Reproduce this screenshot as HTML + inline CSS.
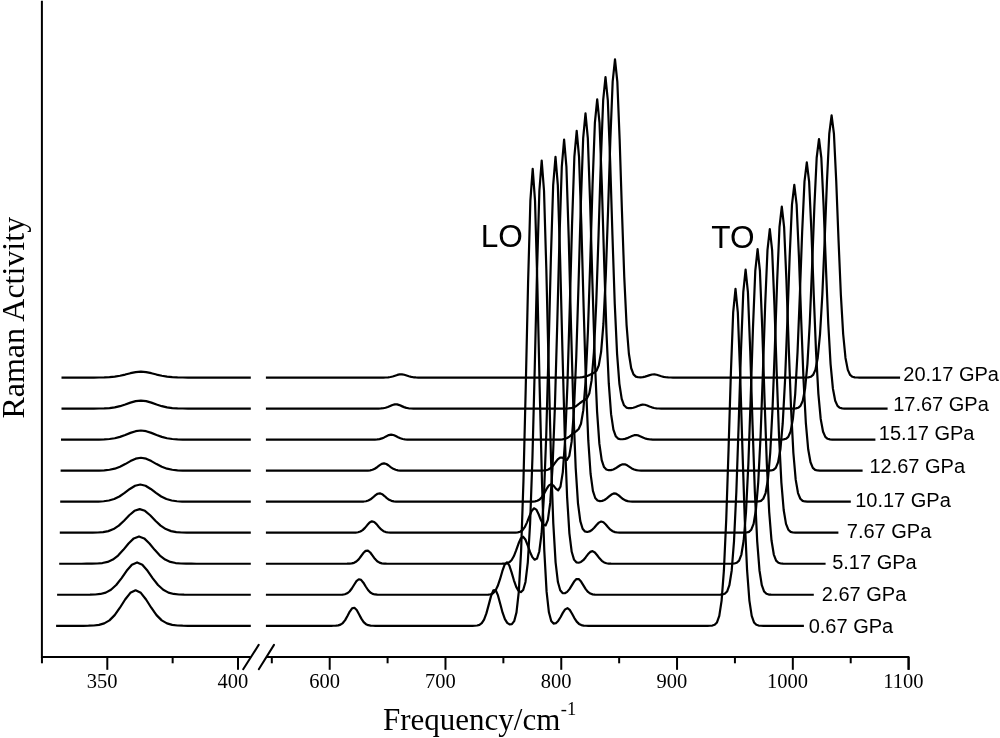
<!DOCTYPE html>
<html><head><meta charset="utf-8"><title>Raman</title>
<style>html,body{margin:0;padding:0;background:#fff;overflow:hidden}svg{display:block;will-change:transform}</style>
</head><body>
<svg width="1000" height="738" viewBox="0 0 1000 738">
<rect width="1000" height="738" fill="#fff"/>
<g fill="none" stroke="#000" stroke-width="2.2" stroke-linejoin="round" stroke-linecap="butt">
<path d="M56.10 625.80 L57.18 625.80 L62.41 625.80 L67.64 625.80 L72.86 625.80 L78.09 625.80 L83.32 625.78 L88.55 625.72 L93.78 625.51 L99.00 624.90 L104.23 623.41 L109.46 620.35 L114.69 615.11 L119.92 607.72 L125.14 599.50 L130.37 592.86 L135.60 590.30 L140.83 592.86 L146.06 599.50 L151.28 607.72 L156.51 615.11 L161.74 620.35 L166.97 623.41 L172.20 624.90 L177.42 625.51 L182.65 625.72 L187.88 625.78 L193.11 625.80 L198.34 625.80 L203.56 625.80 L208.79 625.80 L214.02 625.80 L219.25 625.80 L224.48 625.80 L229.70 625.80 L234.93 625.80 L240.16 625.80 L245.39 625.80 L250.62 625.80 L250.80 625.80"/>
<path d="M265.90 625.80 L266.41 625.80 L268.72 625.80 L271.04 625.80 L273.35 625.80 L275.67 625.80 L277.98 625.80 L280.30 625.80 L282.62 625.80 L284.93 625.80 L287.25 625.80 L289.56 625.80 L291.88 625.80 L294.19 625.80 L296.51 625.80 L298.82 625.80 L301.14 625.80 L303.46 625.80 L305.77 625.80 L308.09 625.80 L310.40 625.80 L312.72 625.80 L315.03 625.80 L317.35 625.80 L319.66 625.80 L321.98 625.80 L324.30 625.80 L326.61 625.80 L328.93 625.80 L331.24 625.79 L333.56 625.77 L335.87 625.69 L338.19 625.41 L340.51 624.67 L342.82 623.04 L345.14 620.15 L347.45 616.03 L349.77 611.58 L352.08 608.34 L354.40 607.74 L356.71 610.05 L359.03 614.23 L361.35 618.63 L363.66 622.06 L365.98 624.15 L368.29 625.19 L370.61 625.61 L372.92 625.75 L375.24 625.79 L377.55 625.80 L379.87 625.80 L382.19 625.80 L384.50 625.80 L386.82 625.80 L389.13 625.80 L391.45 625.80 L393.76 625.80 L396.08 625.80 L398.40 625.80 L400.71 625.80 L403.03 625.80 L405.34 625.80 L407.66 625.80 L409.97 625.80 L412.29 625.80 L414.60 625.80 L416.92 625.80 L419.24 625.80 L421.55 625.80 L423.87 625.80 L426.18 625.80 L428.50 625.80 L430.81 625.80 L433.13 625.80 L435.44 625.80 L437.76 625.80 L440.08 625.80 L442.39 625.80 L444.71 625.80 L447.02 625.80 L449.34 625.80 L451.65 625.80 L453.97 625.80 L456.29 625.80 L458.60 625.80 L460.92 625.80 L463.23 625.80 L465.55 625.80 L467.86 625.80 L470.18 625.80 L472.49 625.78 L474.81 625.73 L477.13 625.52 L479.44 624.87 L481.76 623.18 L484.07 619.58 L486.39 613.38 L488.70 604.89 L491.02 596.13 L493.33 590.32 L495.65 590.03 L497.97 595.42 L500.28 604.04 L502.60 612.67 L504.91 619.11 L507.23 622.86 L509.54 624.43 L511.86 624.15 L514.18 621.18 L516.49 612.40 L518.81 591.65 L521.12 550.37 L523.44 481.53 L525.75 386.91 L528.07 283.30 L530.38 200.66 L532.70 168.90 L535.02 200.66 L537.33 283.30 L539.65 386.91 L541.96 481.53 L544.28 550.37 L546.59 591.63 L548.91 612.33 L551.22 620.96 L553.54 623.57 L555.86 623.20 L558.17 620.93 L560.49 617.21 L562.80 612.87 L565.12 609.37 L567.43 608.22 L569.75 609.93 L572.07 613.73 L574.38 618.06 L576.70 621.62 L579.01 623.90 L581.33 625.07 L583.64 625.56 L585.96 625.74 L588.27 625.79 L590.59 625.80 L592.91 625.80 L595.22 625.80 L597.54 625.80 L599.85 625.80 L602.17 625.80 L604.48 625.80 L606.80 625.80 L609.11 625.80 L611.43 625.80 L613.75 625.80 L616.06 625.80 L618.38 625.80 L620.69 625.80 L623.01 625.80 L625.32 625.80 L627.64 625.80 L629.96 625.80 L632.27 625.80 L635.93 625.80 L638.24 625.80 L640.56 625.80 L642.88 625.80 L645.19 625.80 L647.51 625.80 L649.82 625.80 L652.14 625.80 L654.45 625.80 L656.77 625.80 L659.09 625.80 L661.40 625.80 L663.72 625.80 L666.03 625.80 L668.35 625.80 L670.66 625.80 L672.98 625.80 L675.29 625.80 L677.61 625.80 L679.93 625.80 L682.24 625.80 L684.56 625.80 L686.87 625.80 L689.19 625.80 L691.50 625.80 L693.82 625.80 L696.13 625.80 L698.45 625.80 L700.77 625.80 L703.08 625.80 L705.40 625.80 L707.71 625.79 L710.03 625.74 L712.34 625.55 L714.66 624.82 L716.98 622.45 L719.29 615.93 L721.61 600.62 L723.92 570.18 L726.24 519.42 L728.55 449.65 L730.87 373.26 L733.18 312.32 L735.50 288.90 L737.82 312.32 L740.13 373.26 L742.45 449.65 L744.76 519.42 L747.08 570.18 L749.39 600.62 L751.71 615.93 L754.02 622.45 L756.34 624.82 L758.66 625.55 L760.97 625.74 L763.29 625.79 L765.60 625.80 L767.92 625.80 L770.23 625.80 L772.55 625.80 L774.87 625.80 L777.18 625.80 L779.50 625.80 L781.81 625.80 L784.13 625.80 L786.44 625.80 L788.76 625.80 L791.07 625.80 L793.39 625.80 L795.71 625.80 L798.02 625.80 L800.34 625.80 L802.65 625.80 L803.90 625.80"/>
<path d="M57.10 594.77 L58.68 594.77 L63.91 594.77 L69.14 594.77 L74.36 594.77 L79.59 594.77 L84.82 594.75 L90.05 594.70 L95.28 594.50 L100.50 593.95 L105.73 592.60 L110.96 589.81 L116.19 585.04 L121.42 578.32 L126.64 570.84 L131.87 564.80 L137.10 562.47 L142.33 564.80 L147.56 570.84 L152.78 578.32 L158.01 585.04 L163.24 589.81 L168.47 592.60 L173.70 593.95 L178.92 594.50 L184.15 594.70 L189.38 594.75 L194.61 594.77 L199.84 594.77 L205.06 594.77 L210.29 594.77 L215.52 594.77 L220.75 594.77 L225.98 594.77 L231.20 594.77 L236.43 594.77 L241.66 594.77 L246.89 594.77 L250.80 594.77"/>
<path d="M265.90 594.77 L266.14 594.77 L268.46 594.77 L270.77 594.77 L273.09 594.77 L275.41 594.77 L277.72 594.77 L280.04 594.77 L282.35 594.77 L284.67 594.77 L286.98 594.77 L289.30 594.77 L291.62 594.77 L293.93 594.77 L296.25 594.77 L298.56 594.77 L300.88 594.77 L303.19 594.77 L305.51 594.77 L307.82 594.77 L310.14 594.77 L312.46 594.77 L314.77 594.77 L317.09 594.77 L319.40 594.77 L321.72 594.77 L324.03 594.77 L326.35 594.77 L328.66 594.77 L330.98 594.77 L333.30 594.77 L335.61 594.77 L337.93 594.76 L340.24 594.73 L342.56 594.60 L344.87 594.23 L347.19 593.32 L349.51 591.50 L351.82 588.53 L354.14 584.74 L356.45 581.19 L358.77 579.27 L361.08 579.86 L363.40 582.68 L365.71 586.51 L368.03 590.01 L370.35 592.46 L372.66 593.83 L374.98 594.44 L377.29 594.68 L379.61 594.75 L381.92 594.77 L384.24 594.77 L386.55 594.77 L388.87 594.77 L391.19 594.77 L393.50 594.77 L395.82 594.77 L398.13 594.77 L400.45 594.77 L402.76 594.77 L405.08 594.77 L407.40 594.77 L409.71 594.77 L412.03 594.77 L414.34 594.77 L416.66 594.77 L418.97 594.77 L421.29 594.77 L423.60 594.77 L425.92 594.77 L428.24 594.77 L430.55 594.77 L432.87 594.77 L435.18 594.77 L437.50 594.77 L439.81 594.77 L442.13 594.77 L444.44 594.77 L446.76 594.77 L449.08 594.77 L451.39 594.77 L453.71 594.77 L456.02 594.77 L458.34 594.77 L460.65 594.77 L462.97 594.77 L465.29 594.77 L467.60 594.77 L469.92 594.77 L472.23 594.77 L474.55 594.77 L476.86 594.77 L479.18 594.77 L481.49 594.77 L483.81 594.76 L486.13 594.73 L488.44 594.62 L490.76 594.24 L493.07 593.16 L495.39 590.71 L497.70 586.11 L500.02 579.20 L502.33 571.19 L504.65 564.67 L506.97 562.38 L509.28 565.40 L511.60 572.32 L513.91 580.29 L516.23 586.85 L518.54 590.85 L520.86 592.12 L523.18 590.00 L525.49 581.93 L527.81 562.29 L530.12 523.09 L532.44 457.68 L534.75 367.76 L537.07 269.31 L539.38 190.78 L541.70 160.60 L544.02 190.78 L546.33 269.31 L548.65 367.76 L550.96 457.68 L553.28 523.09 L555.59 562.32 L557.91 582.02 L560.22 590.32 L562.54 593.07 L564.86 593.25 L567.17 591.87 L569.49 589.15 L571.80 585.40 L574.12 581.58 L576.43 579.11 L578.75 579.10 L581.07 581.56 L583.38 585.38 L585.70 589.14 L588.01 591.93 L590.33 593.56 L592.64 594.34 L594.96 594.64 L597.27 594.74 L599.59 594.76 L601.91 594.77 L604.22 594.77 L606.54 594.77 L608.85 594.77 L611.17 594.77 L613.48 594.77 L615.80 594.77 L618.11 594.77 L620.43 594.77 L622.75 594.77 L625.06 594.77 L627.38 594.77 L629.69 594.77 L632.01 594.77 L634.32 594.77 L636.64 594.77 L638.96 594.77 L641.27 594.77 L643.59 594.77 L643.71 594.77 L646.03 594.77 L648.34 594.77 L650.66 594.77 L652.98 594.77 L655.29 594.77 L657.61 594.77 L659.92 594.77 L662.24 594.77 L664.55 594.77 L666.87 594.77 L669.19 594.77 L671.50 594.77 L673.82 594.77 L676.13 594.77 L678.45 594.77 L680.76 594.77 L683.08 594.77 L685.39 594.77 L687.71 594.77 L690.03 594.77 L692.34 594.77 L694.66 594.77 L696.97 594.77 L699.29 594.77 L701.60 594.77 L703.92 594.77 L706.23 594.77 L708.55 594.77 L710.87 594.77 L713.18 594.77 L715.50 594.77 L717.81 594.76 L720.13 594.72 L722.44 594.53 L724.76 593.82 L727.08 591.54 L729.39 585.24 L731.71 570.46 L734.02 541.07 L736.34 492.07 L738.65 424.70 L740.97 350.94 L743.28 292.11 L745.60 269.50 L747.92 292.11 L750.23 350.94 L752.55 424.70 L754.86 492.07 L757.18 541.07 L759.49 570.46 L761.81 585.24 L764.12 591.54 L766.44 593.82 L768.76 594.53 L771.07 594.72 L773.39 594.76 L775.70 594.77 L778.02 594.77 L780.33 594.77 L782.65 594.77 L784.97 594.77 L787.28 594.77 L789.60 594.77 L791.91 594.77 L794.23 594.77 L796.54 594.77 L798.86 594.77 L801.17 594.77 L803.49 594.77 L805.81 594.77 L808.12 594.77 L810.44 594.77 L812.75 594.77 L813.80 594.77"/>
<path d="M59.20 563.74 L60.58 563.74 L65.81 563.74 L71.04 563.74 L76.26 563.74 L81.49 563.74 L86.72 563.72 L91.95 563.68 L97.18 563.52 L102.40 563.05 L107.63 561.90 L112.86 559.55 L118.09 555.52 L123.32 549.84 L128.54 543.51 L133.77 538.41 L139.00 536.44 L144.23 538.41 L149.46 543.51 L154.68 549.84 L159.91 555.52 L165.14 559.55 L170.37 561.90 L175.60 563.05 L180.82 563.52 L186.05 563.68 L191.28 563.72 L196.51 563.74 L201.74 563.74 L206.96 563.74 L212.19 563.74 L217.42 563.74 L222.65 563.74 L227.88 563.74 L233.10 563.74 L238.33 563.74 L243.56 563.74 L248.79 563.74 L250.80 563.74"/>
<path d="M265.90 563.74 L266.05 563.74 L268.37 563.74 L270.68 563.74 L273.00 563.74 L275.31 563.74 L277.63 563.74 L279.94 563.74 L282.26 563.74 L284.57 563.74 L286.89 563.74 L289.21 563.74 L291.52 563.74 L293.84 563.74 L296.15 563.74 L298.47 563.74 L300.78 563.74 L303.10 563.74 L305.42 563.74 L307.73 563.74 L310.05 563.74 L312.36 563.74 L314.68 563.74 L316.99 563.74 L319.31 563.74 L321.62 563.74 L323.94 563.74 L326.26 563.74 L328.57 563.74 L330.89 563.74 L333.20 563.74 L335.52 563.74 L337.83 563.74 L340.15 563.74 L342.46 563.74 L344.78 563.73 L347.10 563.72 L349.41 563.64 L351.73 563.42 L354.04 562.83 L356.36 561.55 L358.67 559.34 L360.99 556.26 L363.31 553.04 L365.62 550.84 L367.94 550.62 L370.25 552.50 L372.57 555.63 L374.88 558.80 L377.20 561.21 L379.51 562.64 L381.83 563.34 L384.15 563.62 L386.46 563.71 L388.78 563.73 L391.09 563.74 L393.41 563.74 L395.72 563.74 L398.04 563.74 L400.35 563.74 L402.67 563.74 L404.99 563.74 L407.30 563.74 L409.62 563.74 L411.93 563.74 L414.25 563.74 L416.56 563.74 L418.88 563.74 L421.20 563.74 L423.51 563.74 L425.83 563.74 L428.14 563.74 L430.46 563.74 L432.77 563.74 L435.09 563.74 L437.40 563.74 L439.72 563.74 L442.04 563.74 L444.35 563.74 L446.67 563.74 L448.98 563.74 L451.30 563.74 L453.61 563.74 L455.93 563.74 L458.24 563.74 L460.56 563.74 L462.88 563.74 L465.19 563.74 L467.51 563.74 L469.82 563.74 L472.14 563.74 L474.45 563.74 L476.77 563.74 L479.09 563.74 L481.40 563.74 L483.72 563.74 L486.03 563.74 L488.35 563.74 L490.66 563.74 L492.98 563.74 L495.29 563.74 L497.61 563.74 L499.93 563.73 L502.24 563.71 L504.56 563.61 L506.87 563.27 L509.19 562.33 L511.50 560.21 L513.82 556.28 L516.13 550.44 L518.45 543.77 L520.77 538.46 L523.08 536.77 L525.40 539.49 L527.71 545.35 L530.03 551.94 L532.34 557.12 L534.66 559.68 L536.98 558.60 L539.29 551.47 L541.61 533.23 L543.92 496.54 L546.24 435.25 L548.55 350.97 L550.87 258.69 L553.18 185.09 L555.50 156.80 L557.82 185.09 L560.13 258.69 L562.45 350.97 L564.76 435.25 L567.08 496.56 L569.39 533.32 L571.71 551.80 L574.02 559.63 L576.34 562.32 L578.66 562.76 L580.97 561.99 L583.29 560.18 L585.60 557.44 L587.92 554.33 L590.23 551.89 L592.55 551.16 L594.87 552.49 L597.18 555.26 L599.50 558.35 L601.81 560.85 L604.13 562.44 L606.44 563.24 L608.76 563.58 L611.07 563.70 L613.39 563.73 L615.71 563.74 L618.02 563.74 L620.34 563.74 L622.65 563.74 L624.97 563.74 L627.28 563.74 L629.60 563.74 L631.91 563.74 L634.23 563.74 L636.55 563.74 L638.86 563.74 L641.18 563.74 L643.49 563.74 L645.81 563.74 L648.12 563.74 L650.44 563.74 L652.76 563.74 L655.07 563.74 L658.03 563.74 L660.34 563.74 L662.66 563.74 L664.98 563.74 L667.29 563.74 L669.61 563.74 L671.92 563.74 L674.24 563.74 L676.55 563.74 L678.87 563.74 L681.19 563.74 L683.50 563.74 L685.82 563.74 L688.13 563.74 L690.45 563.74 L692.76 563.74 L695.08 563.74 L697.39 563.74 L699.71 563.74 L702.03 563.74 L704.34 563.74 L706.66 563.74 L708.97 563.74 L711.29 563.74 L713.60 563.74 L715.92 563.74 L718.23 563.74 L720.55 563.74 L722.87 563.74 L725.18 563.74 L727.50 563.74 L729.81 563.73 L732.13 563.69 L734.44 563.51 L736.76 562.82 L739.08 560.61 L741.39 554.52 L743.71 540.23 L746.02 511.80 L748.34 464.39 L750.65 399.23 L752.97 327.88 L755.28 270.97 L757.60 249.10 L759.92 270.97 L762.23 327.88 L764.55 399.23 L766.86 464.39 L769.18 511.80 L771.49 540.23 L773.81 554.52 L776.12 560.61 L778.44 562.82 L780.76 563.51 L783.07 563.69 L785.39 563.73 L787.70 563.74 L790.02 563.74 L792.33 563.74 L794.65 563.74 L796.97 563.74 L799.28 563.74 L801.60 563.74 L803.91 563.74 L806.23 563.74 L808.54 563.74 L810.86 563.74 L813.17 563.74 L815.49 563.74 L817.81 563.74 L820.12 563.74 L822.44 563.74 L824.75 563.74 L825.60 563.74"/>
<path d="M59.80 532.71 L61.28 532.71 L66.51 532.71 L71.74 532.71 L76.96 532.71 L82.19 532.71 L87.42 532.70 L92.65 532.66 L97.88 532.52 L103.10 532.11 L108.33 531.12 L113.56 529.09 L118.79 525.60 L124.02 520.69 L129.24 515.23 L134.47 510.81 L139.70 509.11 L144.93 510.81 L150.16 515.23 L155.38 520.69 L160.61 525.60 L165.84 529.09 L171.07 531.12 L176.30 532.11 L181.52 532.52 L186.75 532.66 L191.98 532.70 L197.21 532.71 L202.44 532.71 L207.66 532.71 L212.89 532.71 L218.12 532.71 L223.35 532.71 L228.58 532.71 L233.80 532.71 L239.03 532.71 L244.26 532.71 L249.49 532.71 L250.80 532.71"/>
<path d="M265.90 532.71 L267.70 532.71 L270.02 532.71 L272.33 532.71 L274.65 532.71 L276.97 532.71 L279.28 532.71 L281.60 532.71 L283.91 532.71 L286.23 532.71 L288.54 532.71 L290.86 532.71 L293.17 532.71 L295.49 532.71 L297.81 532.71 L300.12 532.71 L302.44 532.71 L304.75 532.71 L307.07 532.71 L309.38 532.71 L311.70 532.71 L314.02 532.71 L316.33 532.71 L318.65 532.71 L320.96 532.71 L323.28 532.71 L325.59 532.71 L327.91 532.71 L330.22 532.71 L332.54 532.71 L334.86 532.71 L337.17 532.71 L339.49 532.71 L341.80 532.71 L344.12 532.71 L346.43 532.71 L348.75 532.71 L351.06 532.70 L353.38 532.67 L355.70 532.57 L358.01 532.27 L360.33 531.55 L362.64 530.13 L364.96 527.88 L367.27 525.09 L369.59 522.57 L371.91 521.34 L374.22 521.96 L376.54 524.15 L378.85 526.96 L381.17 529.46 L383.48 531.16 L385.80 532.09 L388.11 532.50 L390.43 532.65 L392.75 532.70 L395.06 532.71 L397.38 532.71 L399.69 532.71 L402.01 532.71 L404.32 532.71 L406.64 532.71 L408.95 532.71 L411.27 532.71 L413.59 532.71 L415.90 532.71 L418.22 532.71 L420.53 532.71 L422.85 532.71 L425.16 532.71 L427.48 532.71 L429.80 532.71 L432.11 532.71 L434.43 532.71 L436.74 532.71 L439.06 532.71 L441.37 532.71 L443.69 532.71 L446.00 532.71 L448.32 532.71 L450.64 532.71 L452.95 532.71 L455.27 532.71 L457.58 532.71 L459.90 532.71 L462.21 532.71 L464.53 532.71 L466.84 532.71 L469.16 532.71 L471.48 532.71 L473.79 532.71 L476.11 532.71 L478.42 532.71 L480.74 532.71 L483.05 532.71 L485.37 532.71 L487.69 532.71 L490.00 532.71 L492.32 532.71 L494.63 532.71 L496.95 532.71 L499.26 532.71 L501.58 532.71 L503.89 532.71 L506.21 532.71 L508.53 532.71 L510.84 532.71 L513.16 532.69 L515.47 532.63 L517.79 532.41 L520.10 531.77 L522.42 530.23 L524.73 527.19 L527.05 522.36 L529.37 516.36 L531.68 510.94 L534.00 508.27 L536.31 509.59 L538.63 514.22 L540.94 520.04 L543.26 524.55 L545.58 525.46 L547.89 519.85 L550.21 502.88 L552.52 467.68 L554.84 408.55 L557.15 327.16 L559.47 238.03 L561.78 166.93 L564.10 139.60 L566.42 166.93 L568.73 238.03 L571.05 327.17 L573.36 408.59 L575.68 467.81 L577.99 503.33 L580.31 521.19 L582.62 528.76 L584.94 531.41 L587.26 531.96 L589.57 531.44 L591.89 530.05 L594.20 527.80 L596.52 525.05 L598.83 522.63 L601.15 521.52 L603.47 522.25 L605.78 524.46 L608.10 527.23 L610.41 529.64 L612.73 531.26 L615.04 532.13 L617.36 532.52 L619.67 532.66 L621.99 532.70 L624.31 532.71 L626.62 532.71 L628.94 532.71 L631.25 532.71 L633.57 532.71 L635.88 532.71 L638.20 532.71 L640.51 532.71 L642.83 532.71 L645.15 532.71 L647.46 532.71 L649.78 532.71 L652.09 532.71 L654.41 532.71 L656.72 532.71 L659.04 532.71 L661.36 532.71 L663.67 532.71 L665.99 532.71 L667.91 532.71 L670.23 532.71 L672.54 532.71 L674.86 532.71 L677.18 532.71 L679.49 532.71 L681.81 532.71 L684.12 532.71 L686.44 532.71 L688.75 532.71 L691.07 532.71 L693.39 532.71 L695.70 532.71 L698.02 532.71 L700.33 532.71 L702.65 532.71 L704.96 532.71 L707.28 532.71 L709.59 532.71 L711.91 532.71 L714.23 532.71 L716.54 532.71 L718.86 532.71 L721.17 532.71 L723.49 532.71 L725.80 532.71 L728.12 532.71 L730.43 532.71 L732.75 532.71 L735.07 532.71 L737.38 532.71 L739.70 532.71 L742.01 532.70 L744.33 532.66 L746.64 532.48 L748.96 531.82 L751.28 529.69 L753.59 523.81 L755.91 510.01 L758.22 482.57 L760.54 436.81 L762.85 373.91 L765.17 305.05 L767.48 250.11 L769.80 229.00 L772.12 250.11 L774.43 305.05 L776.75 373.91 L779.06 436.81 L781.38 482.57 L783.69 510.01 L786.01 523.81 L788.32 529.69 L790.64 531.82 L792.96 532.48 L795.27 532.66 L797.59 532.70 L799.90 532.71 L802.22 532.71 L804.53 532.71 L806.85 532.71 L809.17 532.71 L811.48 532.71 L813.80 532.71 L816.11 532.71 L818.43 532.71 L820.74 532.71 L823.06 532.71 L825.37 532.71 L827.69 532.71 L830.01 532.71 L832.32 532.71 L834.64 532.71 L836.95 532.71 L838.40 532.71"/>
<path d="M60.20 501.68 L61.88 501.68 L67.11 501.68 L72.34 501.68 L77.56 501.68 L82.79 501.68 L88.02 501.67 L93.25 501.64 L98.48 501.54 L103.70 501.24 L108.93 500.52 L114.16 499.04 L119.39 496.50 L124.62 492.92 L129.84 488.94 L135.07 485.72 L140.30 484.48 L145.53 485.72 L150.76 488.94 L155.98 492.92 L161.21 496.50 L166.44 499.04 L171.67 500.52 L176.90 501.24 L182.12 501.54 L187.35 501.64 L192.58 501.67 L197.81 501.68 L203.04 501.68 L208.26 501.68 L213.49 501.68 L218.72 501.68 L223.95 501.68 L229.18 501.68 L234.40 501.68 L239.63 501.68 L244.86 501.68 L250.09 501.68 L250.80 501.68"/>
<path d="M265.90 501.68 L266.41 501.68 L268.73 501.68 L271.04 501.68 L273.36 501.68 L275.67 501.68 L277.99 501.68 L280.30 501.68 L282.62 501.68 L284.93 501.68 L287.25 501.68 L289.57 501.68 L291.88 501.68 L294.20 501.68 L296.51 501.68 L298.83 501.68 L301.14 501.68 L303.46 501.68 L305.77 501.68 L308.09 501.68 L310.41 501.68 L312.72 501.68 L315.04 501.68 L317.35 501.68 L319.67 501.68 L321.98 501.68 L324.30 501.68 L326.62 501.68 L328.93 501.68 L331.25 501.68 L333.56 501.68 L335.88 501.68 L338.19 501.68 L340.51 501.68 L342.82 501.68 L345.14 501.68 L347.46 501.68 L349.77 501.68 L352.09 501.68 L354.40 501.68 L356.72 501.68 L359.03 501.67 L361.35 501.64 L363.66 501.53 L365.98 501.22 L368.30 500.54 L370.61 499.30 L372.93 497.46 L375.24 495.39 L377.56 493.77 L379.87 493.30 L382.19 494.20 L384.51 496.05 L386.82 498.11 L389.14 499.77 L391.45 500.82 L393.77 501.35 L396.08 501.58 L398.40 501.65 L400.71 501.67 L403.03 501.68 L405.35 501.68 L407.66 501.68 L409.98 501.68 L412.29 501.68 L414.61 501.68 L416.92 501.68 L419.24 501.68 L421.55 501.68 L423.87 501.68 L426.19 501.68 L428.50 501.68 L430.82 501.68 L433.13 501.68 L435.45 501.68 L437.76 501.68 L440.08 501.68 L442.40 501.68 L444.71 501.68 L447.03 501.68 L449.34 501.68 L451.66 501.68 L453.97 501.68 L456.29 501.68 L458.60 501.68 L460.92 501.68 L463.24 501.68 L465.55 501.68 L467.87 501.68 L470.18 501.68 L472.50 501.68 L474.81 501.68 L477.13 501.68 L479.44 501.68 L481.76 501.68 L484.08 501.68 L486.39 501.68 L488.71 501.68 L491.02 501.68 L493.34 501.68 L495.65 501.68 L497.97 501.68 L500.29 501.68 L502.60 501.68 L504.92 501.68 L507.23 501.68 L509.55 501.68 L511.86 501.68 L514.18 501.68 L516.49 501.68 L518.81 501.68 L521.13 501.68 L523.44 501.68 L525.76 501.68 L528.07 501.68 L530.39 501.66 L532.70 501.60 L535.02 501.38 L537.33 500.79 L539.65 499.44 L541.97 496.93 L544.28 493.18 L546.60 488.87 L548.91 485.39 L551.23 484.19 L553.54 485.67 L555.86 488.62 L558.18 490.32 L560.49 486.67 L562.81 472.07 L565.12 439.73 L567.44 384.34 L569.75 307.70 L572.07 223.65 L574.38 156.58 L576.70 130.80 L579.02 156.58 L581.33 223.67 L583.65 307.76 L585.96 384.58 L588.28 440.45 L590.59 473.96 L592.91 490.81 L595.22 497.97 L597.54 500.51 L599.86 501.13 L602.17 500.88 L604.49 499.99 L606.80 498.45 L609.12 496.45 L611.43 494.54 L613.75 493.45 L616.07 493.70 L618.38 495.15 L620.70 497.18 L623.01 499.07 L625.33 500.40 L627.64 501.15 L629.96 501.50 L632.27 501.63 L634.59 501.67 L636.91 501.68 L639.22 501.68 L641.54 501.68 L643.85 501.68 L646.17 501.68 L648.48 501.68 L650.80 501.68 L653.11 501.68 L655.43 501.68 L657.75 501.68 L660.06 501.68 L662.38 501.68 L664.69 501.68 L667.01 501.68 L669.32 501.68 L671.64 501.68 L673.96 501.68 L676.27 501.68 L678.59 501.68 L679.91 501.68 L682.23 501.68 L684.54 501.68 L686.86 501.68 L689.18 501.68 L691.49 501.68 L693.81 501.68 L696.12 501.68 L698.44 501.68 L700.75 501.68 L703.07 501.68 L705.39 501.68 L707.70 501.68 L710.02 501.68 L712.33 501.68 L714.65 501.68 L716.96 501.68 L719.28 501.68 L721.59 501.68 L723.91 501.68 L726.23 501.68 L728.54 501.68 L730.86 501.68 L733.17 501.68 L735.49 501.68 L737.80 501.68 L740.12 501.68 L742.43 501.68 L744.75 501.68 L747.07 501.68 L749.38 501.68 L751.70 501.68 L754.01 501.67 L756.33 501.63 L758.64 501.46 L760.96 500.82 L763.28 498.75 L765.59 493.04 L767.91 479.63 L770.22 452.98 L772.54 408.54 L774.85 347.45 L777.17 280.56 L779.48 227.21 L781.80 206.70 L784.12 227.21 L786.43 280.56 L788.75 347.45 L791.06 408.54 L793.38 452.98 L795.69 479.63 L798.01 493.04 L800.32 498.75 L802.64 500.82 L804.96 501.46 L807.27 501.63 L809.59 501.67 L811.90 501.68 L814.22 501.68 L816.53 501.68 L818.85 501.68 L821.17 501.68 L823.48 501.68 L825.80 501.68 L828.11 501.68 L830.43 501.68 L832.74 501.68 L835.06 501.68 L837.37 501.68 L839.69 501.68 L842.01 501.68 L844.32 501.68 L846.64 501.68 L848.95 501.68 L850.80 501.68"/>
<path d="M60.60 470.65 L62.48 470.65 L67.71 470.65 L72.94 470.65 L78.16 470.65 L83.39 470.65 L88.62 470.64 L93.85 470.62 L99.08 470.54 L104.30 470.32 L109.53 469.78 L114.76 468.67 L119.99 466.76 L125.22 464.08 L130.44 461.09 L135.67 458.68 L140.90 457.75 L146.13 458.68 L151.36 461.09 L156.58 464.08 L161.81 466.76 L167.04 468.67 L172.27 469.78 L177.50 470.32 L182.72 470.54 L187.95 470.62 L193.18 470.64 L198.41 470.65 L203.64 470.65 L208.86 470.65 L214.09 470.65 L219.32 470.65 L224.55 470.65 L229.78 470.65 L235.00 470.65 L240.23 470.65 L245.46 470.65 L250.69 470.65 L250.80 470.65"/>
<path d="M265.90 470.65 L265.95 470.65 L268.26 470.65 L270.58 470.65 L272.89 470.65 L275.21 470.65 L277.53 470.65 L279.84 470.65 L282.16 470.65 L284.47 470.65 L286.79 470.65 L289.10 470.65 L291.42 470.65 L293.73 470.65 L296.05 470.65 L298.37 470.65 L300.68 470.65 L303.00 470.65 L305.31 470.65 L307.63 470.65 L309.94 470.65 L312.26 470.65 L314.57 470.65 L316.89 470.65 L319.21 470.65 L321.52 470.65 L323.84 470.65 L326.15 470.65 L328.47 470.65 L330.78 470.65 L333.10 470.65 L335.42 470.65 L337.73 470.65 L340.05 470.65 L342.36 470.65 L344.68 470.65 L346.99 470.65 L349.31 470.65 L351.62 470.65 L353.94 470.65 L356.26 470.65 L358.57 470.65 L360.89 470.65 L363.20 470.64 L365.52 470.62 L367.83 470.54 L370.15 470.31 L372.46 469.78 L374.78 468.77 L377.10 467.24 L379.41 465.43 L381.73 463.93 L384.04 463.35 L386.36 463.97 L388.67 465.50 L390.99 467.30 L393.31 468.81 L395.62 469.80 L397.94 470.32 L400.25 470.54 L402.57 470.62 L404.88 470.64 L407.20 470.65 L409.51 470.65 L411.83 470.65 L414.15 470.65 L416.46 470.65 L418.78 470.65 L421.09 470.65 L423.41 470.65 L425.72 470.65 L428.04 470.65 L430.35 470.65 L432.67 470.65 L434.99 470.65 L437.30 470.65 L439.62 470.65 L441.93 470.65 L444.25 470.65 L446.56 470.65 L448.88 470.65 L451.20 470.65 L453.51 470.65 L455.83 470.65 L458.14 470.65 L460.46 470.65 L462.77 470.65 L465.09 470.65 L467.40 470.65 L469.72 470.65 L472.04 470.65 L474.35 470.65 L476.67 470.65 L478.98 470.65 L481.30 470.65 L483.61 470.65 L485.93 470.65 L488.24 470.65 L490.56 470.65 L492.88 470.65 L495.19 470.65 L497.51 470.65 L499.82 470.65 L502.14 470.65 L504.45 470.65 L506.77 470.65 L509.09 470.65 L511.40 470.65 L513.72 470.65 L516.03 470.65 L518.35 470.65 L520.66 470.65 L522.98 470.65 L525.29 470.65 L527.61 470.65 L529.93 470.65 L532.24 470.65 L534.56 470.65 L536.87 470.65 L539.19 470.64 L541.50 470.62 L543.82 470.52 L546.13 470.22 L548.45 469.49 L550.77 468.00 L553.08 465.54 L555.40 462.36 L557.71 459.30 L560.03 457.51 L562.34 457.68 L564.66 459.20 L566.98 459.91 L569.29 456.00 L571.61 441.89 L573.92 410.81 L576.24 357.52 L578.55 283.72 L580.87 202.76 L583.18 138.14 L585.50 113.30 L587.82 138.14 L590.13 202.78 L592.45 283.81 L594.76 357.82 L597.08 411.66 L599.39 443.94 L601.71 460.18 L604.02 467.08 L606.34 469.55 L608.66 470.20 L610.97 470.08 L613.29 469.45 L615.60 468.30 L617.92 466.76 L620.23 465.22 L622.55 464.26 L624.87 464.31 L627.18 465.35 L629.50 466.92 L631.81 468.43 L634.13 469.54 L636.44 470.18 L638.76 470.48 L641.07 470.60 L643.39 470.64 L645.71 470.65 L648.02 470.65 L650.34 470.65 L652.65 470.65 L654.97 470.65 L657.28 470.65 L659.60 470.65 L661.91 470.65 L664.23 470.65 L666.55 470.65 L668.86 470.65 L671.18 470.65 L673.49 470.65 L675.81 470.65 L678.12 470.65 L680.44 470.65 L682.76 470.65 L685.07 470.65 L687.39 470.65 L689.70 470.65 L690.10 470.65 L692.41 470.65 L694.73 470.65 L697.04 470.65 L699.36 470.65 L701.68 470.65 L703.99 470.65 L706.31 470.65 L708.62 470.65 L710.94 470.65 L713.25 470.65 L715.57 470.65 L717.89 470.65 L720.20 470.65 L722.52 470.65 L724.83 470.65 L727.15 470.65 L729.46 470.65 L731.78 470.65 L734.09 470.65 L736.41 470.65 L738.73 470.65 L741.04 470.65 L743.36 470.65 L745.67 470.65 L747.99 470.65 L750.30 470.65 L752.62 470.65 L754.93 470.65 L757.25 470.65 L759.57 470.65 L761.88 470.65 L764.20 470.65 L766.51 470.64 L768.83 470.60 L771.14 470.44 L773.46 469.82 L775.78 467.81 L778.09 462.28 L780.41 449.29 L782.72 423.46 L785.04 380.39 L787.35 321.19 L789.67 256.37 L791.98 204.67 L794.30 184.80 L796.62 204.67 L798.93 256.37 L801.25 321.19 L803.56 380.39 L805.88 423.46 L808.19 449.29 L810.51 462.28 L812.82 467.81 L815.14 469.82 L817.46 470.44 L819.77 470.60 L822.09 470.64 L824.40 470.65 L826.72 470.65 L829.03 470.65 L831.35 470.65 L833.67 470.65 L835.98 470.65 L838.30 470.65 L840.61 470.65 L842.93 470.65 L845.24 470.65 L847.56 470.65 L849.87 470.65 L852.19 470.65 L854.51 470.65 L856.82 470.65 L859.14 470.65 L861.45 470.65 L862.60 470.65"/>
<path d="M61.00 439.62 L62.48 439.62 L67.71 439.62 L72.94 439.62 L78.16 439.62 L83.39 439.62 L88.62 439.61 L93.85 439.60 L99.08 439.55 L104.30 439.39 L109.53 439.01 L114.76 438.22 L119.99 436.88 L125.22 434.99 L130.44 432.88 L135.67 431.18 L140.90 430.52 L146.13 431.18 L151.36 432.88 L156.58 434.99 L161.81 436.88 L167.04 438.22 L172.27 439.01 L177.50 439.39 L182.72 439.55 L187.95 439.60 L193.18 439.61 L198.41 439.62 L203.64 439.62 L208.86 439.62 L214.09 439.62 L219.32 439.62 L224.55 439.62 L229.78 439.62 L235.00 439.62 L240.23 439.62 L245.46 439.62 L250.69 439.62 L250.80 439.62"/>
<path d="M265.90 439.62 L266.07 439.62 L268.38 439.62 L270.70 439.62 L273.02 439.62 L275.33 439.62 L277.65 439.62 L279.96 439.62 L282.28 439.62 L284.59 439.62 L286.91 439.62 L289.23 439.62 L291.54 439.62 L293.86 439.62 L296.17 439.62 L298.49 439.62 L300.80 439.62 L303.12 439.62 L305.43 439.62 L307.75 439.62 L310.07 439.62 L312.38 439.62 L314.70 439.62 L317.01 439.62 L319.33 439.62 L321.64 439.62 L323.96 439.62 L326.27 439.62 L328.59 439.62 L330.91 439.62 L333.22 439.62 L335.54 439.62 L337.85 439.62 L340.17 439.62 L342.48 439.62 L344.80 439.62 L347.12 439.62 L349.43 439.62 L351.75 439.62 L354.06 439.62 L356.38 439.62 L358.69 439.62 L361.01 439.62 L363.32 439.62 L365.64 439.62 L367.96 439.62 L370.27 439.62 L372.59 439.60 L374.90 439.55 L377.22 439.41 L379.53 439.07 L381.85 438.42 L384.16 437.40 L386.48 436.17 L388.80 435.10 L391.11 434.62 L393.43 434.97 L395.74 435.97 L398.06 437.21 L400.37 438.27 L402.69 438.99 L405.01 439.37 L407.32 439.54 L409.64 439.60 L411.95 439.61 L414.27 439.62 L416.58 439.62 L418.90 439.62 L421.21 439.62 L423.53 439.62 L425.85 439.62 L428.16 439.62 L430.48 439.62 L432.79 439.62 L435.11 439.62 L437.42 439.62 L439.74 439.62 L442.05 439.62 L444.37 439.62 L446.69 439.62 L449.00 439.62 L451.32 439.62 L453.63 439.62 L455.95 439.62 L458.26 439.62 L460.58 439.62 L462.90 439.62 L465.21 439.62 L467.53 439.62 L469.84 439.62 L472.16 439.62 L474.47 439.62 L476.79 439.62 L479.10 439.62 L481.42 439.62 L483.74 439.62 L486.05 439.62 L488.37 439.62 L490.68 439.62 L493.00 439.62 L495.31 439.62 L497.63 439.62 L499.94 439.62 L502.26 439.62 L504.58 439.62 L506.89 439.62 L509.21 439.62 L511.52 439.62 L513.84 439.62 L516.15 439.62 L518.47 439.62 L520.79 439.62 L523.10 439.62 L525.42 439.62 L527.73 439.62 L530.05 439.62 L532.36 439.62 L534.68 439.62 L536.99 439.62 L539.31 439.62 L541.63 439.62 L543.94 439.62 L546.26 439.62 L548.57 439.62 L550.89 439.62 L553.20 439.62 L555.52 439.62 L557.83 439.60 L560.15 439.54 L562.47 439.36 L564.78 438.92 L567.10 438.03 L569.41 436.58 L571.73 434.69 L574.04 432.77 L576.36 431.09 L578.68 428.98 L580.99 423.77 L583.31 410.16 L585.62 381.12 L587.94 331.04 L590.25 261.23 L592.57 184.36 L594.88 122.92 L597.20 99.30 L599.52 122.97 L601.83 184.52 L604.15 261.69 L606.46 332.17 L608.78 383.44 L611.09 414.19 L613.41 429.65 L615.72 436.23 L618.04 438.60 L620.36 439.26 L622.67 439.27 L624.99 438.90 L627.30 438.16 L629.62 437.12 L631.93 436.00 L634.25 435.19 L636.57 435.06 L638.88 435.67 L641.20 436.73 L643.51 437.84 L645.83 438.69 L648.14 439.21 L650.46 439.47 L652.77 439.57 L655.09 439.61 L657.41 439.62 L659.72 439.62 L662.04 439.62 L664.35 439.62 L666.67 439.62 L668.98 439.62 L671.30 439.62 L673.61 439.62 L675.93 439.62 L678.25 439.62 L680.56 439.62 L682.88 439.62 L685.19 439.62 L687.51 439.62 L689.82 439.62 L692.14 439.62 L694.46 439.62 L696.77 439.62 L699.09 439.62 L701.40 439.62 L702.60 439.62 L704.91 439.62 L707.23 439.62 L709.54 439.62 L711.86 439.62 L714.18 439.62 L716.49 439.62 L718.81 439.62 L721.12 439.62 L723.44 439.62 L725.75 439.62 L728.07 439.62 L730.39 439.62 L732.70 439.62 L735.02 439.62 L737.33 439.62 L739.65 439.62 L741.96 439.62 L744.28 439.62 L746.59 439.62 L748.91 439.62 L751.23 439.62 L753.54 439.62 L755.86 439.62 L758.17 439.62 L760.49 439.62 L762.80 439.62 L765.12 439.62 L767.43 439.62 L769.75 439.62 L772.07 439.62 L774.38 439.62 L776.70 439.62 L779.01 439.61 L781.33 439.57 L783.64 439.41 L785.96 438.81 L788.28 436.86 L790.59 431.50 L792.91 418.90 L795.22 393.85 L797.54 352.09 L799.85 294.67 L802.17 231.81 L804.48 181.67 L806.80 162.40 L809.12 181.67 L811.43 231.81 L813.75 294.67 L816.06 352.09 L818.38 393.85 L820.69 418.90 L823.01 431.50 L825.32 436.86 L827.64 438.81 L829.96 439.41 L832.27 439.57 L834.59 439.61 L836.90 439.62 L839.22 439.62 L841.53 439.62 L843.85 439.62 L846.17 439.62 L848.48 439.62 L850.80 439.62 L853.11 439.62 L855.43 439.62 L857.74 439.62 L860.06 439.62 L862.37 439.62 L864.69 439.62 L867.01 439.62 L869.32 439.62 L871.64 439.62 L873.95 439.62 L875.40 439.62"/>
<path d="M61.50 408.59 L62.48 408.59 L67.71 408.59 L72.94 408.59 L78.16 408.59 L83.39 408.59 L88.62 408.59 L93.85 408.57 L99.08 408.52 L104.30 408.39 L109.53 408.05 L114.76 407.36 L119.99 406.18 L125.22 404.52 L130.44 402.66 L135.67 401.17 L140.90 400.59 L146.13 401.17 L151.36 402.66 L156.58 404.52 L161.81 406.18 L167.04 407.36 L172.27 408.05 L177.50 408.39 L182.72 408.52 L187.95 408.57 L193.18 408.59 L198.41 408.59 L203.64 408.59 L208.86 408.59 L214.09 408.59 L219.32 408.59 L224.55 408.59 L229.78 408.59 L235.00 408.59 L240.23 408.59 L245.46 408.59 L250.69 408.59 L250.80 408.59"/>
<path d="M265.90 408.59 L267.42 408.59 L269.74 408.59 L272.05 408.59 L274.37 408.59 L276.68 408.59 L279.00 408.59 L281.32 408.59 L283.63 408.59 L285.95 408.59 L288.26 408.59 L290.58 408.59 L292.89 408.59 L295.21 408.59 L297.53 408.59 L299.84 408.59 L302.16 408.59 L304.47 408.59 L306.79 408.59 L309.10 408.59 L311.42 408.59 L313.73 408.59 L316.05 408.59 L318.37 408.59 L320.68 408.59 L323.00 408.59 L325.31 408.59 L327.63 408.59 L329.94 408.59 L332.26 408.59 L334.57 408.59 L336.89 408.59 L339.21 408.59 L341.52 408.59 L343.84 408.59 L346.15 408.59 L348.47 408.59 L350.78 408.59 L353.10 408.59 L355.42 408.59 L357.73 408.59 L360.05 408.59 L362.36 408.59 L364.68 408.59 L366.99 408.59 L369.31 408.59 L371.62 408.59 L373.94 408.59 L376.26 408.58 L378.57 408.55 L380.89 408.47 L383.20 408.25 L385.52 407.79 L387.83 407.03 L390.15 406.01 L392.46 404.99 L394.78 404.36 L397.10 404.40 L399.41 405.10 L401.73 406.13 L404.04 407.13 L406.36 407.86 L408.67 408.28 L410.99 408.48 L413.31 408.56 L415.62 408.58 L417.94 408.59 L420.25 408.59 L422.57 408.59 L424.88 408.59 L427.20 408.59 L429.51 408.59 L431.83 408.59 L434.15 408.59 L436.46 408.59 L438.78 408.59 L441.09 408.59 L443.41 408.59 L445.72 408.59 L448.04 408.59 L450.35 408.59 L452.67 408.59 L454.99 408.59 L457.30 408.59 L459.62 408.59 L461.93 408.59 L464.25 408.59 L466.56 408.59 L468.88 408.59 L471.20 408.59 L473.51 408.59 L475.83 408.59 L478.14 408.59 L480.46 408.59 L482.77 408.59 L485.09 408.59 L487.40 408.59 L489.72 408.59 L492.04 408.59 L494.35 408.59 L496.67 408.59 L498.98 408.59 L501.30 408.59 L503.61 408.59 L505.93 408.59 L508.24 408.59 L510.56 408.59 L512.88 408.59 L515.19 408.59 L517.51 408.59 L519.82 408.59 L522.14 408.59 L524.45 408.59 L526.77 408.59 L529.09 408.59 L531.40 408.59 L533.72 408.59 L536.03 408.59 L538.35 408.59 L540.66 408.59 L542.98 408.59 L545.29 408.59 L547.61 408.59 L549.93 408.59 L552.24 408.59 L554.56 408.59 L556.87 408.59 L559.19 408.59 L561.50 408.59 L563.82 408.58 L566.13 408.55 L568.45 408.46 L570.77 408.21 L573.08 407.64 L575.40 406.56 L577.71 404.93 L580.03 403.00 L582.34 401.27 L584.66 400.01 L586.98 398.39 L589.29 393.60 L591.61 380.42 L593.92 352.03 L596.24 303.11 L598.55 235.00 L600.87 160.08 L603.18 100.21 L605.50 77.20 L607.82 100.24 L610.13 160.18 L612.45 235.33 L614.76 303.96 L617.08 353.88 L619.39 383.82 L621.71 398.88 L624.02 405.29 L626.34 407.58 L628.66 408.21 L630.97 408.18 L633.29 407.77 L635.60 407.03 L637.92 406.07 L640.23 405.15 L642.55 404.63 L644.87 404.74 L647.18 405.44 L649.50 406.42 L651.81 407.33 L654.13 407.97 L656.44 408.34 L658.76 408.50 L661.07 408.56 L663.39 408.58 L665.71 408.59 L668.02 408.59 L670.34 408.59 L672.65 408.59 L674.97 408.59 L677.28 408.59 L679.60 408.59 L681.91 408.59 L684.23 408.59 L686.55 408.59 L688.86 408.59 L691.18 408.59 L693.49 408.59 L695.81 408.59 L698.12 408.59 L700.44 408.59 L702.76 408.59 L705.07 408.59 L707.39 408.59 L709.70 408.59 L712.02 408.59 L712.48 408.59 L714.80 408.59 L717.11 408.59 L719.43 408.59 L721.74 408.59 L724.06 408.59 L726.38 408.59 L728.69 408.59 L731.01 408.59 L733.32 408.59 L735.64 408.59 L737.95 408.59 L740.27 408.59 L742.59 408.59 L744.90 408.59 L747.22 408.59 L749.53 408.59 L751.85 408.59 L754.16 408.59 L756.48 408.59 L758.79 408.59 L761.11 408.59 L763.43 408.59 L765.74 408.59 L768.06 408.59 L770.37 408.59 L772.69 408.59 L775.00 408.59 L777.32 408.59 L779.63 408.59 L781.95 408.59 L784.27 408.59 L786.58 408.59 L788.90 408.59 L791.21 408.58 L793.53 408.55 L795.84 408.39 L798.16 407.80 L800.48 405.91 L802.79 400.69 L805.11 388.44 L807.42 364.08 L809.74 323.47 L812.05 267.63 L814.37 206.50 L816.68 157.74 L819.00 139.00 L821.32 157.74 L823.63 206.50 L825.95 267.63 L828.26 323.47 L830.58 364.08 L832.89 388.44 L835.21 400.69 L837.52 405.91 L839.84 407.80 L842.16 408.39 L844.47 408.55 L846.79 408.58 L849.10 408.59 L851.42 408.59 L853.73 408.59 L856.05 408.59 L858.37 408.59 L860.68 408.59 L863.00 408.59 L865.31 408.59 L867.63 408.59 L869.94 408.59 L872.26 408.59 L874.57 408.59 L876.89 408.59 L879.21 408.59 L881.52 408.59 L883.84 408.59 L886.15 408.59 L887.60 408.59"/>
<path d="M61.50 377.56 L62.48 377.56 L67.71 377.56 L72.94 377.56 L78.16 377.56 L83.39 377.56 L88.62 377.56 L93.85 377.55 L99.08 377.51 L104.30 377.41 L109.53 377.16 L114.76 376.65 L119.99 375.78 L125.22 374.56 L130.44 373.19 L135.67 372.09 L140.90 371.66 L146.13 372.09 L151.36 373.19 L156.58 374.56 L161.81 375.78 L167.04 376.65 L172.27 377.16 L177.50 377.41 L182.72 377.51 L187.95 377.55 L193.18 377.56 L198.41 377.56 L203.64 377.56 L208.86 377.56 L214.09 377.56 L219.32 377.56 L224.55 377.56 L229.78 377.56 L235.00 377.56 L240.23 377.56 L245.46 377.56 L250.69 377.56 L250.80 377.56"/>
<path d="M265.90 377.56 L267.66 377.56 L269.98 377.56 L272.29 377.56 L274.61 377.56 L276.92 377.56 L279.24 377.56 L281.55 377.56 L283.87 377.56 L286.18 377.56 L288.50 377.56 L290.82 377.56 L293.13 377.56 L295.45 377.56 L297.76 377.56 L300.08 377.56 L302.39 377.56 L304.71 377.56 L307.03 377.56 L309.34 377.56 L311.66 377.56 L313.97 377.56 L316.29 377.56 L318.60 377.56 L320.92 377.56 L323.23 377.56 L325.55 377.56 L327.87 377.56 L330.18 377.56 L332.50 377.56 L334.81 377.56 L337.13 377.56 L339.44 377.56 L341.76 377.56 L344.07 377.56 L346.39 377.56 L348.71 377.56 L351.02 377.56 L353.34 377.56 L355.65 377.56 L357.97 377.56 L360.28 377.56 L362.60 377.56 L364.92 377.56 L367.23 377.56 L369.55 377.56 L371.86 377.56 L374.18 377.56 L376.49 377.56 L378.81 377.56 L381.12 377.55 L383.44 377.54 L385.76 377.48 L388.07 377.34 L390.39 377.03 L392.70 376.49 L395.02 375.73 L397.33 374.93 L399.65 374.37 L401.96 374.30 L404.28 374.75 L406.60 375.52 L408.91 376.31 L411.23 376.92 L413.54 377.28 L415.86 377.46 L418.17 377.53 L420.49 377.55 L422.81 377.56 L425.12 377.56 L427.44 377.56 L429.75 377.56 L432.07 377.56 L434.38 377.56 L436.70 377.56 L439.01 377.56 L441.33 377.56 L443.65 377.56 L445.96 377.56 L448.28 377.56 L450.59 377.56 L452.91 377.56 L455.22 377.56 L457.54 377.56 L459.85 377.56 L462.17 377.56 L464.49 377.56 L466.80 377.56 L469.12 377.56 L471.43 377.56 L473.75 377.56 L476.06 377.56 L478.38 377.56 L480.70 377.56 L483.01 377.56 L485.33 377.56 L487.64 377.56 L489.96 377.56 L492.27 377.56 L494.59 377.56 L496.90 377.56 L499.22 377.56 L501.54 377.56 L503.85 377.56 L506.17 377.56 L508.48 377.56 L510.80 377.56 L513.11 377.56 L515.43 377.56 L517.74 377.56 L520.06 377.56 L522.38 377.56 L524.69 377.56 L527.01 377.56 L529.32 377.56 L531.64 377.56 L533.95 377.56 L536.27 377.56 L538.59 377.56 L540.90 377.56 L543.22 377.56 L545.53 377.56 L547.85 377.56 L550.16 377.56 L552.48 377.56 L554.79 377.56 L557.11 377.56 L559.43 377.56 L561.74 377.56 L564.06 377.56 L566.37 377.56 L568.69 377.56 L571.00 377.56 L573.32 377.56 L575.63 377.55 L577.95 377.51 L580.27 377.41 L582.58 377.16 L584.90 376.67 L587.21 375.89 L589.53 374.89 L591.84 373.86 L594.16 372.76 L596.48 370.75 L598.79 365.35 L601.11 351.85 L603.42 323.95 L605.74 276.59 L608.05 211.00 L610.37 139.00 L612.68 81.50 L615.00 59.40 L617.32 81.52 L619.63 139.07 L621.95 211.21 L624.26 277.10 L626.58 325.04 L628.89 353.78 L631.21 368.24 L633.52 374.39 L635.84 376.61 L638.16 377.26 L640.47 377.32 L642.79 377.09 L645.10 376.60 L647.42 375.89 L649.73 375.10 L652.05 374.51 L654.37 374.38 L656.68 374.76 L659.00 375.48 L661.31 376.26 L663.63 376.87 L665.94 377.26 L668.26 377.45 L670.57 377.52 L672.89 377.55 L675.21 377.56 L677.52 377.56 L679.84 377.56 L682.15 377.56 L684.47 377.56 L686.78 377.56 L689.10 377.56 L691.41 377.56 L693.73 377.56 L696.05 377.56 L698.36 377.56 L700.68 377.56 L702.99 377.56 L705.31 377.56 L707.62 377.56 L709.94 377.56 L712.26 377.56 L714.57 377.56 L716.89 377.56 L719.20 377.56 L721.52 377.56 L725.08 377.56 L727.40 377.56 L729.71 377.56 L732.03 377.56 L734.34 377.56 L736.66 377.56 L738.98 377.56 L741.29 377.56 L743.61 377.56 L745.92 377.56 L748.24 377.56 L750.55 377.56 L752.87 377.56 L755.19 377.56 L757.50 377.56 L759.82 377.56 L762.13 377.56 L764.45 377.56 L766.76 377.56 L769.08 377.56 L771.39 377.56 L773.71 377.56 L776.03 377.56 L778.34 377.56 L780.66 377.56 L782.97 377.56 L785.29 377.56 L787.60 377.56 L789.92 377.56 L792.23 377.56 L794.55 377.56 L796.87 377.56 L799.18 377.56 L801.50 377.56 L803.81 377.55 L806.13 377.52 L808.44 377.37 L810.76 376.79 L813.08 374.95 L815.39 369.88 L817.71 357.96 L820.02 334.26 L822.34 294.75 L824.65 240.44 L826.97 180.97 L829.28 133.53 L831.60 115.30 L833.92 133.53 L836.23 180.97 L838.55 240.44 L840.86 294.75 L843.18 334.26 L845.49 357.96 L847.81 369.88 L850.12 374.95 L852.44 376.79 L854.76 377.37 L857.07 377.52 L859.39 377.55 L861.70 377.56 L864.02 377.56 L866.33 377.56 L868.65 377.56 L870.97 377.56 L873.28 377.56 L875.60 377.56 L877.91 377.56 L880.23 377.56 L882.54 377.56 L884.86 377.56 L887.17 377.56 L889.49 377.56 L891.81 377.56 L894.12 377.56 L896.44 377.56 L898.75 377.56 L900.10 377.56"/>
</g>
<g stroke="#000" stroke-width="2" fill="none" stroke-linecap="butt">
<line x1="41.9" y1="0.8" x2="41.9" y2="657.9"/>
<line x1="41" y1="656.9" x2="250.7" y2="656.9"/>
<path d="M266.6 656.9 H908.60 V669.8" stroke-linejoin="round"/>
<line x1="41.95" y1="656.9" x2="41.95" y2="663.3"/>
<line x1="107.3" y1="656.9" x2="107.3" y2="669.8"/>
<line x1="172.65" y1="656.9" x2="172.65" y2="663.3"/>
<line x1="238" y1="656.9" x2="238" y2="669.8"/>
<line x1="271.81" y1="656.9" x2="271.81" y2="663.3"/>
<line x1="329.7" y1="656.9" x2="329.7" y2="669.8"/>
<line x1="387.59" y1="656.9" x2="387.59" y2="663.3"/>
<line x1="445.48" y1="656.9" x2="445.48" y2="669.8"/>
<line x1="503.37" y1="656.9" x2="503.37" y2="663.3"/>
<line x1="561.26" y1="656.9" x2="561.26" y2="669.8"/>
<line x1="619.15" y1="656.9" x2="619.15" y2="663.3"/>
<line x1="677.04" y1="656.9" x2="677.04" y2="669.8"/>
<line x1="734.93" y1="656.9" x2="734.93" y2="663.3"/>
<line x1="792.82" y1="656.9" x2="792.82" y2="669.8"/>
<line x1="850.71" y1="656.9" x2="850.71" y2="663.3"/>
<line x1="908.6" y1="656.9" x2="908.6" y2="669.8"/>
<line x1="243.2" y1="669.2" x2="258.7" y2="644.9" stroke-linecap="round"/>
<line x1="258.8" y1="669.2" x2="274" y2="644.9" stroke-linecap="round"/>
</g>
<g font-family="Liberation Serif, serif" font-size="20.5" text-anchor="middle" fill="#000">
<text x="102.10" y="688">350</text>
<text x="232.80" y="688">400</text>
<text x="324.50" y="688">600</text>
<text x="440.28" y="688">700</text>
<text x="556.06" y="688">800</text>
<text x="671.84" y="688">900</text>
<text x="787.62" y="688">1000</text>
<text x="903.40" y="688">1100</text>
</g>
<text x="383" y="730.4" font-family="Liberation Serif, serif" font-size="31" fill="#000">Frequency/cm<tspan font-size="18.5" dy="-15.8" dx="0.4">-1</tspan></text>
<text transform="translate(23.6 418.6) rotate(-90)" font-family="Liberation Serif, serif" font-size="32" fill="#000">Raman Activity</text>
<g font-family="Liberation Sans, sans-serif" fill="#000">
<text x="480.8" y="246.9" font-size="31.6">LO</text>
<text x="711.2" y="247.7" font-size="31.6">TO</text>
<text x="808.7" y="633.1" font-size="20">0.67 GPa</text>
<text x="821.8" y="601.4" font-size="20">2.67 GPa</text>
<text x="832.2" y="569.2" font-size="20">5.17 GPa</text>
<text x="846.8" y="538.2" font-size="20">7.67 GPa</text>
<text x="855.2" y="506.6" font-size="20">10.17 GPa</text>
<text x="869.4" y="472.6" font-size="20">12.67 GPa</text>
<text x="878.8" y="440.2" font-size="20">15.17 GPa</text>
<text x="893.2" y="411.2" font-size="20">17.67 GPa</text>
<text x="903.3" y="381.1" font-size="20">20.17 GPa</text>
</g>
</svg>
</body></html>
